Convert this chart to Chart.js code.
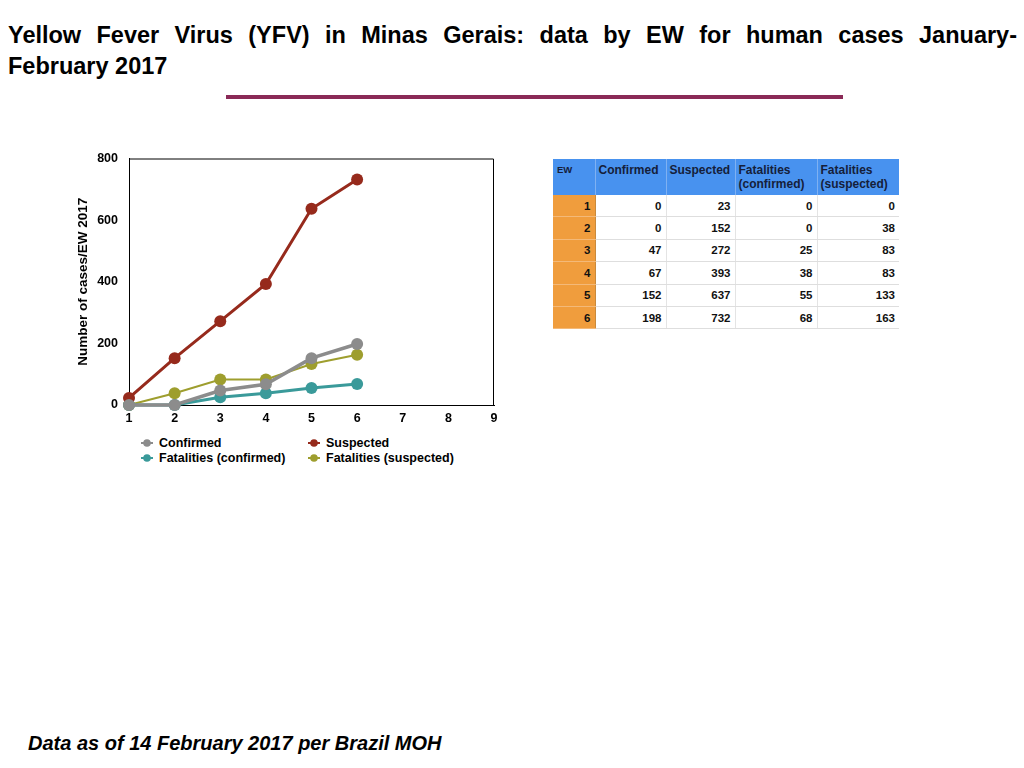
<!DOCTYPE html>
<html>
<head>
<meta charset="utf-8">
<script src="https://cdn.jsdelivr.net/npm/chart.js@4.4.0/dist/chart.umd.min.js"></script>
<style>
  html, body { margin:0; padding:0; background:#fff; width:1024px; height:768px; overflow:hidden; }
  body { position:relative; font-family: "Liberation Sans", Arial, Helvetica, sans-serif; color:#000; }
  #t1 { position:absolute; left:8px; top:20px; width:1009px; font-weight:bold; font-size:23.5px; line-height:31px;
        text-align:justify; text-align-last:justify; white-space:nowrap; }
  #t1 span { white-space:normal; }
  #t2 { position:absolute; left:8px; top:51px; font-weight:bold; font-size:23.5px; line-height:31px; }
  #bar { position:absolute; left:226px; top:95px; width:617px; height:4px; background:#8a2a57; }
  #foot { position:absolute; left:28px; top:730px; font-weight:bold; font-style:italic; font-size:20px; line-height:26px; }
  #chartBox { position:absolute; left:60px; top:140px; width:450px; height:290px; }
  #legend { position:absolute; left:0; top:0; }
  .lg { position:absolute; font-weight:bold; font-size:12.5px; line-height:15px; white-space:nowrap; }
  .lg svg { position:absolute; left:-19px; top:2px; }
  #tbl { position:absolute; left:553px; top:159px; border-collapse:collapse; table-layout:fixed; font-weight:bold; }
  #tbl th { background:#4892ef; color:#15203a; font-size:12px; line-height:14px; text-align:left; vertical-align:top;
            padding:4px 3px 0 3px; height:32px; border-left:1px solid #7fb1f2; font-weight:bold; }
  #tbl th.ew { font-size:9.5px; padding-left:4px; border-left:none; }
  #tbl td { font-size:11.5px; text-align:right; padding:0 4px 0 0; height:21.4px; border-bottom:1px solid #dedede;
            border-left:1px solid #e4e4e4; color:#111; }
  #tbl td.ew { background:#f09d3d; border-bottom:1px solid #f4b978; border-left:none; border-right:1px solid #c98a3c; }
</style>
</head>
<body>
<div id="t1"><span>Yellow Fever Virus (YFV) in Minas Gerais: data by EW for human cases January-</span></div>
<div id="t2">February 2017</div>
<div id="bar"></div>

<div id="chartBox"><canvas id="c"></canvas></div>
<div id="legend"></div>

<table id="tbl"></table>

<div id="foot">Data as of 14 February 2017 per Brazil MOH</div>

<script>
// ---- data ----
const weeks = [1, 2, 3, 4, 5, 6];
const confirmed = [0, 0, 47, 67, 152, 198];
const suspected = [23, 152, 272, 393, 637, 732];
const fatalitiesConfirmed = [0, 0, 25, 38, 55, 68];
const fatalitiesSuspected = [0, 38, 83, 83, 133, 163];
const seriesNames = ['Confirmed', 'Suspected', 'Fatalities (confirmed)', 'Fatalities (suspected)'];
const tableHeaders = ['EW', 'Confirmed', 'Suspected', 'Fatalities (confirmed)', 'Fatalities (suspected)'];
const yTicks = [0, 200, 400, 600, 800];
const xTicks = [1, 2, 3, 4, 5, 6, 7, 8, 9];

const colors = ['#8c8c8c', '#962a1c', '#3a9a9a', '#9e9e2e'];
const widths = [3.5, 3, 3, 2];
const seriesValues = [confirmed, suspected, fatalitiesConfirmed, fatalitiesSuspected];

const datasets = seriesValues.map((vals, i) => ({
  label: seriesNames[i],
  data: weeks.map((w, j) => ({ x: w, y: vals[j] })),
  borderColor: colors[i],
  backgroundColor: colors[i],
  borderWidth: widths[i],
  pointRadius: 6,
  pointHoverRadius: 6,
  pointBorderWidth: 0,
  tension: 0,
  clip: false
}));

const frame = {
  id: 'frame',
  afterDraw(chart) {
    const a = chart.chartArea, ctx = chart.ctx;
    ctx.save();
    ctx.strokeStyle = '#000';
    ctx.lineWidth = 1;
    ctx.beginPath();
    ctx.moveTo(a.left, a.top + 0.5);
    ctx.lineTo(a.right - 0.5, a.top + 0.5);
    ctx.lineTo(a.right - 0.5, a.bottom);
    ctx.stroke();
    ctx.restore();
  }
};

const fontFam = '"Liberation Sans", Arial, Helvetica, sans-serif';
new Chart(document.getElementById('c'), {
  type: 'line',
  data: { datasets },
  plugins: [frame],
  options: {
    responsive: true,
    maintainAspectRatio: false,
    animation: false,
    events: [],
    layout: { padding: { top: 8, right: 16, left: 0, bottom: 0 } },
    plugins: { legend: { display: false }, tooltip: { enabled: false } },
    scales: {
      x: {
        type: 'linear', min: 1, max: 9,
        afterBuildTicks: s => { s.ticks = xTicks.map(v => ({ value: v })); },
        afterFit: s => { s.height = 25; },
        grid: { display: false, drawTicks: false },
        border: { display: true, color: '#000', width: 1 },
        ticks: { color: '#000', padding: 6, font: { family: fontFam, size: 12.5, weight: 'bold' } }
      },
      y: {
        type: 'linear', min: 0, max: 800,
        afterBuildTicks: s => { s.ticks = yTicks.map(v => ({ value: v })); },
        afterFit: s => { s.width = 69; },
        grid: { display: false, drawTicks: false },
        border: { display: true, color: '#000', width: 1 },
        ticks: { color: '#000', padding: 11, font: { family: fontFam, size: 12.5, weight: 'bold' } },
        title: { display: true, text: 'Number of cases/EW 2017', color: '#000',
                 font: { family: fontFam, size: 13.5, weight: 'bold' }, padding: { top: 15, bottom: 0 } }
      }
    }
  }
});

// ---- legend ----
const legendPos = [[159, 436], [326, 436], [159, 451], [326, 451]];
const lg = document.getElementById('legend');
seriesNames.forEach((n, i) => {
  const d = document.createElement('div');
  d.className = 'lg';
  d.style.left = legendPos[i][0] + 'px';
  d.style.top = legendPos[i][1] + 'px';
  d.innerHTML = '<svg width="14" height="10"><line x1="1" y1="5" x2="13" y2="5" stroke="' + colors[i] +
    '" stroke-width="2"/><circle cx="7" cy="5" r="3.8" fill="' + colors[i] + '"/></svg>' + n;
  lg.appendChild(d);
});

// ---- table ----
const colW = [42, 71, 69, 82, 82];
const tbl = document.getElementById('tbl');
let html = '<colgroup>' + colW.map(w => '<col style="width:' + w + 'px">').join('') + '</colgroup><tr>';
tableHeaders.forEach((h, i) => {
  const txt = h.replace(' (', '<br>(');
  html += '<th' + (i === 0 ? ' class="ew"' : '') + '>' + txt + '</th>';
});
html += '</tr>';
weeks.forEach((w, j) => {
  html += '<tr><td class="ew">' + w + '</td>' + seriesValues.map(v => '<td>' + v[j] + '</td>').join('') + '</tr>';
});
tbl.innerHTML = html;
</script>
</body>
</html>
